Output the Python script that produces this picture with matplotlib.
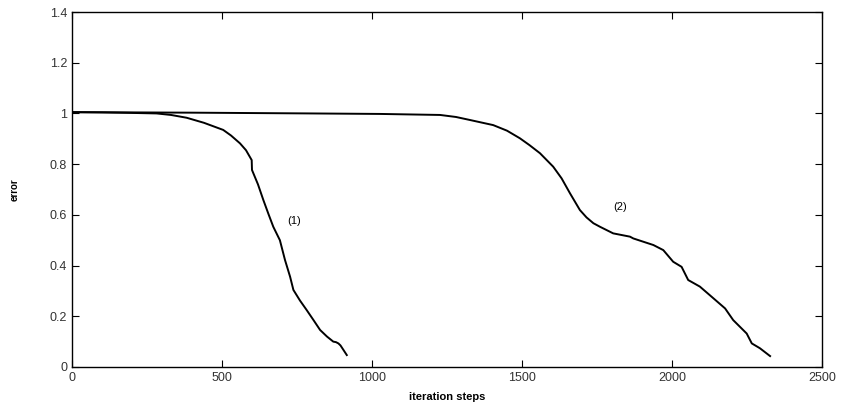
import numpy as np
import matplotlib.pyplot as plt

plt.rcParams["font.family"] = ["Liberation Sans", "DejaVu Sans"]

# Curve (1)
steps1 = [0, 100, 200, 282, 330, 382, 440, 504, 530, 560, 580, 599, 600, 620,
          638, 655, 671, 693, 710, 727, 738, 760, 782, 805, 827, 850, 871, 880,
          888, 895, 905, 916]
err1 = [1.005, 1.004, 1.002, 1.0, 0.994, 0.983, 0.963, 0.935, 0.913, 0.882,
        0.855, 0.816, 0.777, 0.72, 0.658, 0.603, 0.553, 0.50, 0.422, 0.356,
        0.304, 0.262, 0.225, 0.185, 0.146, 0.12, 0.10, 0.098, 0.093, 0.085,
        0.067, 0.047]

# Curve (2)
steps2 = [0, 400, 793, 1027, 1227, 1280, 1327, 1404, 1450, 1493, 1525, 1560,
          1604, 1632, 1660, 1693, 1715, 1738, 1760, 1804, 1860, 1871, 1938,
          1971, 2004, 2032, 2054, 2093, 2138, 2177, 2204, 2249, 2266, 2293,
          2327]
err2 = [1.005, 1.003, 1.0, 0.998, 0.994, 0.986, 0.974, 0.954, 0.932, 0.902,
        0.875, 0.843, 0.79, 0.744, 0.685, 0.619, 0.59, 0.567, 0.553, 0.527,
        0.514, 0.507, 0.481, 0.461, 0.415, 0.395, 0.343, 0.317, 0.271, 0.231,
        0.185, 0.132, 0.093, 0.074, 0.043]

fg = plt.figure(figsize=(8.41, 4.07), dpi=100)
ax = fg.add_axes([0.0856, 0.0983, 0.8918, 0.8722])

ax.plot(steps1, err1, "k", lw=1.4)
ax.plot(steps2, err2, "k", lw=1.4)

ax.text(740, 0.575, "(1)", fontsize=8, ha="center", va="center")
ax.text(1827, 0.632, "(2)", fontsize=8, ha="center", va="center")

ax.set_xlim(0, 2500)
ax.set_ylim(0, 1.4)
ax.set_xticks([0, 500, 1000, 1500, 2000, 2500])
ax.set_yticks([0, 0.2, 0.4, 0.6, 0.8, 1.0, 1.2, 1.4])
ax.set_yticklabels(["0", "0.2", "0.4", "0.6", "0.8", "1", "1.2", "1.4"])

ax.set_xlabel("iteration steps", fontsize=8, fontweight="bold", labelpad=6)
ax.set_ylabel("error", fontsize=7, fontweight="bold", labelpad=22)

ax.tick_params(axis="both", which="major", labelsize=9, direction="in",
               length=5, top=True, right=True, colors="k", labelcolor="#333333")
for s in ax.spines.values():
    s.set_linewidth(1.0)

fg.savefig("out.png", dpi=100)
